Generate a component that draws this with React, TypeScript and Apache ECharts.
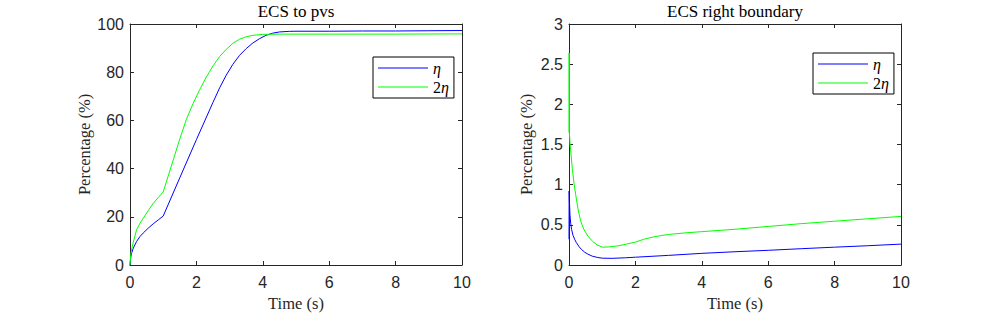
import React, { useEffect, useRef } from "react";
import * as echarts from "echarts";

// ---------- data ----------
const titles = ["ECS to pvs", "ECS right boundary"];
const seriesNames = ["η", "2η"];
const xTicks = { min: 0, max: 10, interval: 2 };

// Left panel: ECS to pvs
const leftEtaT = [0, 0.02, 0.05, 0.1, 0.2, 0.3, 0.4, 0.55, 0.7, 0.85, 1.0, 1.5, 2.0, 2.5, 2.7, 2.9, 3.1, 3.3, 3.5, 3.7, 3.9, 4.1, 4.3, 4.5, 4.8, 5.0, 6, 7, 8, 9, 10];
const leftEtaV = [0, 3, 5, 7, 9.8, 11.8, 13.3, 15.3, 17.1, 18.7, 20.3, 36.2, 52, 67.5, 73.5, 78.8, 83.3, 87, 89.8, 92.1, 93.9, 95.3, 96.2, 96.7, 96.95, 97.0, 97.0, 97.1, 97.1, 97.2, 97.3];
const left2EtaT = [0, 0.02, 0.05, 0.1, 0.2, 0.3, 0.4, 0.55, 0.7, 0.85, 1.0, 1.5, 1.7, 1.9, 2.1, 2.3, 2.5, 2.7, 2.9, 3.1, 3.3, 3.5, 3.7, 4.0, 4.5, 5, 6, 8, 10];
const left2EtaV = [0, 4, 6.5, 9.5, 14.7, 17.3, 19.4, 22.6, 25.6, 28, 30.3, 52.3, 60.5, 67, 72.8, 78, 82.6, 86.5, 89.5, 92, 93.7, 94.7, 95.3, 95.7, 95.8, 95.8, 95.8, 95.8, 95.9];

// Right panel: ECS right boundary
const rightEtaT = [0, 0.004, 0.012, 0.03, 0.05, 0.08, 0.12, 0.17, 0.22, 0.3, 0.37, 0.47, 0.57, 0.7, 0.87, 1.0, 1.3, 1.7, 2, 3, 4, 5, 6, 7, 8, 9, 10];
const rightEtaV = [0.32, 0.92, 0.8, 0.62, 0.52, 0.44, 0.37, 0.32, 0.28, 0.23, 0.196, 0.16, 0.135, 0.11, 0.093, 0.085, 0.083, 0.09, 0.097, 0.12, 0.145, 0.165, 0.183, 0.203, 0.222, 0.24, 0.26];
const right2EtaT = [0, 0.004, 0.012, 0.03, 0.06, 0.1, 0.15, 0.2, 0.27, 0.35, 0.45, 0.57, 0.72, 0.85, 1.0, 1.2, 1.5, 1.75, 2.0, 2.25, 2.5, 2.75, 3.0, 3.5, 4.0, 5, 6, 7, 8, 9, 10];
const right2EtaV = [1.65, 2.64, 1.65, 1.52, 1.38, 1.2, 1.02, 0.88, 0.7, 0.55, 0.44, 0.36, 0.29, 0.25, 0.222, 0.225, 0.24, 0.262, 0.285, 0.32, 0.345, 0.365, 0.38, 0.4, 0.415, 0.445, 0.48, 0.515, 0.545, 0.575, 0.605];

const leftY = { min: 0, max: 100, interval: 20 };
const rightY = { min: 0, max: 3, interval: 0.5 };

const colors = ["#0000ff", "#00ff00"];

const zip = (t: number[], v: number[]) => t.map((x, i) => [x, v[i]]);

const SERIF = "'Liberation Serif', 'Times New Roman', serif";
const SANS = "'Liberation Sans', Arial, sans-serif";
const AX = "#262626";

export default function App() {
  const ref = useRef<HTMLDivElement>(null);
  useEffect(() => {
    document.body.style.margin = "0";
    const chart = echarts.init(ref.current!, null, { renderer: "svg" });
    const grids = [
      { left: 130, top: 24, width: 332, height: 245 },
      { left: 569, top: 24, width: 332, height: 245 },
    ];
    const yRanges = [leftY, rightY];
    const lineStyle = { show: true, onZero: false, lineStyle: { color: AX, width: 1 } };
    const tick = { show: true, inside: true, length: 4, lineStyle: { color: AX } };
    const xAxes: any[] = [];
    const yAxes: any[] = [];
    [0, 1].forEach((g) => {
      xAxes.push({
        type: "value",
        gridIndex: g,
        position: "bottom",
        ...xTicks,
        name: "Time (s)",
        nameLocation: "middle",
        nameGap: 30,
        nameTextStyle: { fontFamily: SERIF, fontSize: 16.5, color: AX },
        axisLine: lineStyle,
        axisTick: tick,
        axisLabel: { fontFamily: SANS, fontSize: 16, color: AX, margin: 9 },
        splitLine: { show: false },
      });
      xAxes.push({
        type: "value",
        gridIndex: g,
        position: "top",
        ...xTicks,
        axisLine: lineStyle,
        axisTick: tick,
        axisLabel: { show: false },
        splitLine: { show: false },
      });
      yAxes.push({
        type: "value",
        gridIndex: g,
        position: "left",
        ...yRanges[g],
        name: "Percentage (%)",
        nameLocation: "middle",
        nameGap: 34,
        nameTextStyle: { fontFamily: SERIF, fontSize: 16.5, color: AX },
        axisLine: lineStyle,
        axisTick: tick,
        axisLabel: { fontFamily: SANS, fontSize: 16, color: AX, margin: 6 },
        splitLine: { show: false },
      });
      yAxes.push({
        type: "value",
        gridIndex: g,
        position: "right",
        ...yRanges[g],
        axisLine: lineStyle,
        axisTick: tick,
        axisLabel: { show: false },
        splitLine: { show: false },
      });
    });

    const data = [
      [zip(leftEtaT, leftEtaV), zip(left2EtaT, left2EtaV)],
      [zip(rightEtaT, rightEtaV), zip(right2EtaT, right2EtaV)],
    ];
    const series: any[] = [];
    [0, 1].forEach((g) => {
      [0, 1].forEach((s) => {
        series.push({
          type: "line",
          name: seriesNames[s],
          xAxisIndex: g * 2,
          yAxisIndex: g * 2,
          data: data[g][s],
          symbol: "none",
          color: colors[s],
          lineStyle: { color: colors[s], width: 1 },
        });
      });
    });

    const legendBase = {
      orient: "vertical",
      icon: "rect",
      itemWidth: 50,
      itemHeight: 1.2,
      itemGap: 3,
      padding: [3, 5, 3, 5],
      borderColor: "#000",
      borderWidth: 1,
      backgroundColor: "#fff",
      itemStyle: { borderWidth: 0 },
      data: seriesNames,
      formatter: (n: string) => (n === "η" ? "{i|η}" : "{n|2}{i|η}"),
      textStyle: {
        fontFamily: SERIF,
        fontSize: 16,
        color: "#000",
        lineHeight: 16,
        rich: {
          i: { fontFamily: SERIF, fontStyle: "italic", fontSize: 16, lineHeight: 16, color: "#000" },
          n: { fontFamily: SERIF, fontSize: 16, lineHeight: 16, color: "#000" },
        },
      },
      selectedMode: false,
    };

    const titleStyle = { fontFamily: SERIF, fontSize: 17, fontWeight: "normal", color: "#000" };
    chart.setOption({
      animation: false,
      backgroundColor: "#fff",
      title: [
        { text: titles[0], left: 296, top: 3, padding: 0, textAlign: "center", textStyle: titleStyle },
        { text: titles[1], left: 735, top: 3, padding: 0, textAlign: "center", textStyle: titleStyle },
      ],
      legend: [
        { ...legendBase, left: 373, top: 57 },
        { ...legendBase, left: 813, top: 53 },
      ],
      grid: grids,
      xAxis: xAxes,
      yAxis: yAxes,
      series,
    });
    return () => chart.dispose();
  }, []);
  return <div ref={ref} style={{ width: 997, height: 317, position: "absolute", left: 0, top: 0 }} />;
}
